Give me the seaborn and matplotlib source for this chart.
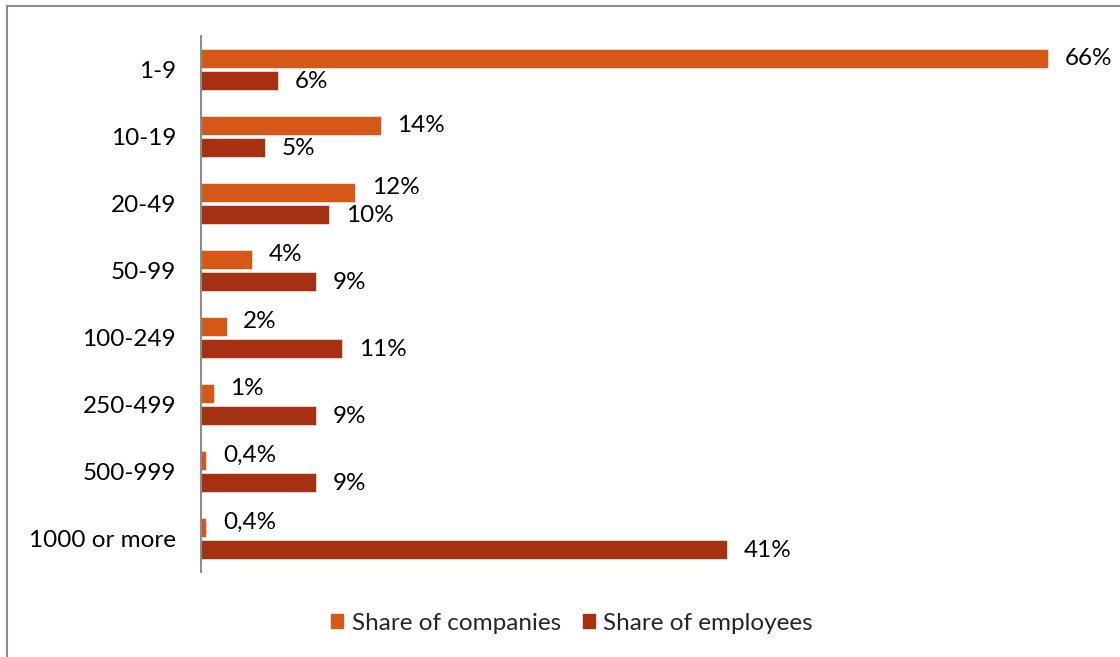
import matplotlib
matplotlib.use("Agg")
import matplotlib.pyplot as plt
from matplotlib.patches import Rectangle
import seaborn as sns
import pandas as pd

# Company size classes (number of employees)
size_classes = ["1-9", "10-19", "20-49", "50-99", "100-249", "250-499", "500-999", "1000 or more"]
share_companies = [66, 14, 12, 4, 2, 1, 0.4, 0.4]
share_employees = [6, 5, 10, 9, 11, 9, 9, 41]
companies_labels = ["66%", "14%", "12%", "4%", "2%", "1%", "0,4%", "0,4%"]
employees_labels = ["6%", "5%", "10%", "9%", "11%", "9%", "9%", "41%"]
series_names = ["Share of companies", "Share of employees"]
palette = ["#D55819", "#A53012"]

df = pd.DataFrame({
    "size": size_classes * 2,
    "share": share_companies + share_employees,
    "series": [series_names[0]] * len(size_classes) + [series_names[1]] * len(size_classes),
})

sns.set_theme(style="white")
plt.rcParams["font.family"] = ["Lato", "DejaVu Sans"]
FS = 17.5

W, H = 1120, 657
fig = plt.figure(figsize=(W / 100, H / 100), dpi=100)
ax = fig.add_axes([201 / W, (H - 572) / H, (1099 - 201) / W, (572 - 36) / H])

sns.barplot(data=df, y="size", x="share", hue="series", order=size_classes,
            hue_order=series_names, palette=palette, orient="h",
            width=0.66, gap=0.18, saturation=1, edgecolor="white", linewidth=0.4,
            legend=False, ax=ax)

ax.set_xlim(0, 70)
ax.set_ylim(len(size_classes) - 0.5, -0.5)
ax.set_xlabel("")
ax.set_ylabel("")
ax.set_xticks([])
ax.tick_params(axis="y", length=0, pad=18, labelsize=FS, labelcolor="black")
for side in ["top", "right", "bottom"]:
    ax.spines[side].set_visible(False)
ax.spines["left"].set_color("#8C8C8C")
ax.spines["left"].set_linewidth(1.5)

# Value labels at the bar ends; a company label is lifted a little when
# the employee label underneath would otherwise crowd it
comp_bars, emp_bars = ax.containers[0], ax.containers[1]
for i, (bar, text) in enumerate(zip(comp_bars, companies_labels)):
    x = bar.get_x() + bar.get_width()
    y = bar.get_y() + bar.get_height() / 2
    dy = 3.8 if share_companies[i] < share_employees[i] + 4 else 0
    ax.annotate(text, (x, y), xytext=(12, dy), textcoords="offset points",
                ha="left", va="center", fontsize=FS, color="black")
for bar, text in zip(emp_bars, employees_labels):
    x = bar.get_x() + bar.get_width()
    y = bar.get_y() + bar.get_height() / 2
    ax.annotate(text, (x, y), xytext=(12, -0.5), textcoords="offset points",
                ha="left", va="center", fontsize=FS, color="black")

# Legend below the plot
handles = [Rectangle((0, 0), 1, 1, color=c) for c in palette]
fig.legend(handles, series_names, loc="center", bbox_to_anchor=(572 / W, 1 - 623 / H),
           ncol=2, frameon=False, fontsize=FS, handlelength=0.5, handleheight=0.5,
           handletextpad=0.35, columnspacing=0.9)

# Outer frame (top and left edges)
fig.add_artist(plt.Line2D([7 / W, 7 / W], [0, 1 - 6 / H], color="#8C8C8C", lw=1.5))
fig.add_artist(plt.Line2D([7 / W, 1], [1 - 6 / H, 1 - 6 / H], color="#8C8C8C", lw=1.5))

fig.savefig("out.png", dpi=100, facecolor="white")
